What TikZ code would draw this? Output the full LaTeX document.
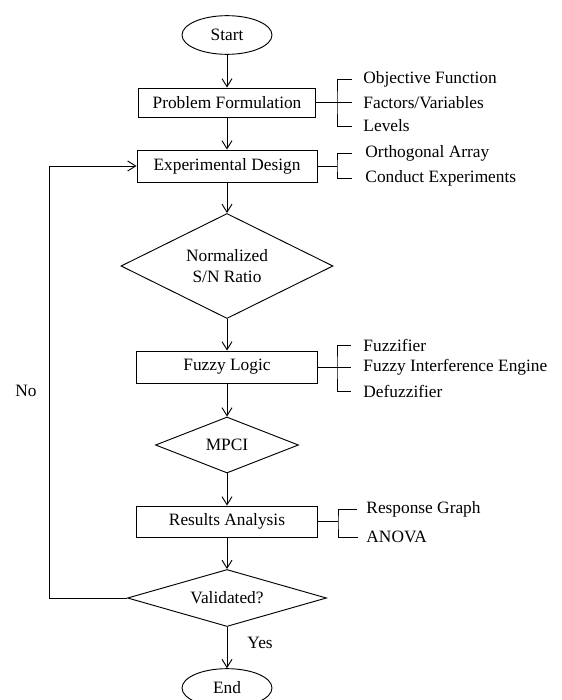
\documentclass[tikz,border=0pt]{standalone}
\usepackage{fontspec}
\setmainfont{Liberation Serif}
\usetikzlibrary{calc, shapes.geometric, positioning, arrows.meta}

\begin{document}
\begin{tikzpicture}[x=0.75pt, y=-0.75pt, line width=0.7pt,
    >={Straight Barb[length=6pt,width=7.5pt]},
    every node/.style={font=\fontsize{13}{15.5}\selectfont},
    box/.style={draw, rectangle, inner sep=0pt, minimum height=24pt},
    term/.style={draw, ellipse, inner sep=0pt, minimum width=67.5pt, minimum height=29pt},
    dec/.style={draw, diamond, aspect=2.5, inner sep=0pt, align=center},
    sub/.style={anchor=west, inner sep=0pt}]
    \useasboundingbox (0,0) rectangle (561,700);

    % 1. Cac khoi chinh
    \node[term] (start) at (227,35) {Start};
    \node[box, minimum width=132.75pt, minimum height=21.75pt] (pf) at (227,102.5) {Problem Formulation};
    \node[box, minimum width=135pt] (ed) at (227,166) {Experimental Design};
    \node[dec, aspect=2, minimum width=159pt, minimum height=78.75pt] (sn) at (227,266) {Normalized\\S/N Ratio};
    \node[box, minimum width=135.75pt] (fl) at (227,367) {Fuzzy Logic};
    \node[dec, minimum width=107.25pt, minimum height=42pt] (mpci) at (227,445) {MPCI};
    \node[box, minimum width=135.75pt, minimum height=23.25pt] (ra) at (227,521.5) {Results Analysis};
    \node[dec, aspect=3.5, minimum width=149.25pt, minimum height=42.75pt] (val) at (227,598) {Validated?};
    \node[term] (end) at (227,688) {End};

    % 2. Cac muc phu
    \node[sub] (pf1) at (363,79) {Objective Function};
    \node[sub] (pf2) at (363,102.5) {Factors/Variables};
    \node[sub] (pf3) at (363,126) {Levels};
    \node[sub] (ed1) at (365,153) {Orthogonal Array};
    \node[sub] (ed2) at (365,178) {Conduct Experiments};
    \node[sub] (fl1) at (363,345) {Fuzzifier};
    \node[sub] (fl2) at (363,367) {Fuzzy Interference Engine};
    \node[sub] (fl3) at (363,391) {Defuzzifier};
    \node[sub] (ra1) at (366,509) {Response Graph};
    \node[sub] (ra2) at (366,537) {ANOVA};

    % 3. Ngoac
    \coordinate (pfb) at (337,102.5);
    \draw (pf.east) -- ($(pf2.west)+(-11,0)$);
    \draw ($(pf1.west)+(-11,0)$) -| (pfb) |- ($(pf3.west)+(-11,0)$);
    \coordinate (edb) at (337,166);
    \draw (ed.east) -- (edb);
    \draw ($(ed1.west)+(-13,0)$) -| (edb) |- ($(ed2.west)+(-13,0)$);
    \coordinate (flb) at (337,367);
    \draw (fl.east) -- ($(fl2.west)+(-12,0)$);
    \draw ($(fl1.west)+(-12,0)$) -| (flb) |- ($(fl3.west)+(-12,0)$);
    \coordinate (rab) at (338,521.5);
    \draw (ra.east) -- (rab);
    \draw ($(ra1.west)+(-9,0)$) -| (rab) |- ($(ra2.west)+(-8,0)$);

    % 4. Mui ten
    \draw[->] (start) -- (pf);
    \draw[->] (pf) -- (ed);
    \draw[->] (ed) -- (sn);
    \draw[->] (sn) -- (fl);
    \draw[->] (fl) -- (mpci);
    \draw[->] (mpci) -- (ra);
    \draw[->] (ra) -- (val);
    \draw[->] (val) -- node[pos=0.38, anchor=west, xshift=15pt, inner sep=0pt] {Yes} (end);
    \coordinate (fb) at (49,598);
    \draw[->] (val.west) -- (fb) |- node[pos=0.24, anchor=east, xshift=-9pt, inner sep=0pt] {No} (ed.west);
\end{tikzpicture}
\end{document}
